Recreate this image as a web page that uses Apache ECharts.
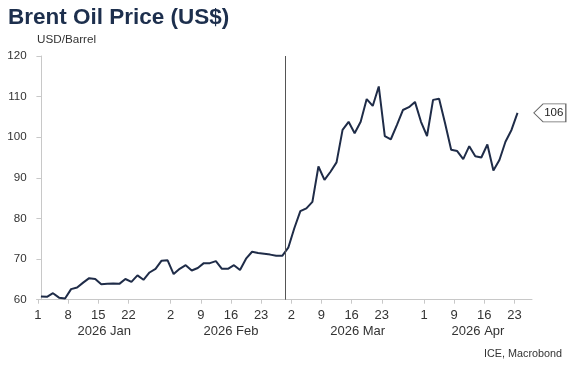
<!DOCTYPE html>
<html>
<head>
<meta charset="utf-8">
<script src="https://cdn.jsdelivr.net/npm/echarts@6/dist/echarts.min.js"></script>
<style>
html,body{margin:0;padding:0;background:#fff;}
#c{width:576px;height:367px;}
</style>
</head>
<body>
<div id="c"></div>
<script>
// Trading days (weekdays, Good Friday excluded)
const dates = [
 '2026-01-01','2026-01-02','2026-01-05','2026-01-06','2026-01-07','2026-01-08','2026-01-09',
 '2026-01-12','2026-01-13','2026-01-14','2026-01-15','2026-01-16','2026-01-19','2026-01-20',
 '2026-01-21','2026-01-22','2026-01-23','2026-01-26','2026-01-27','2026-01-28','2026-01-29','2026-01-30',
 '2026-02-02','2026-02-03','2026-02-04','2026-02-05','2026-02-06','2026-02-09','2026-02-10',
 '2026-02-11','2026-02-12','2026-02-13','2026-02-16','2026-02-17','2026-02-18','2026-02-19',
 '2026-02-20','2026-02-23','2026-02-24','2026-02-25','2026-02-26','2026-02-27',
 '2026-03-02','2026-03-03','2026-03-04','2026-03-05','2026-03-06','2026-03-09','2026-03-10',
 '2026-03-11','2026-03-12','2026-03-13','2026-03-16','2026-03-17','2026-03-18','2026-03-19',
 '2026-03-20','2026-03-23','2026-03-24','2026-03-25','2026-03-26','2026-03-27','2026-03-30','2026-03-31',
 '2026-04-01','2026-04-02','2026-04-06','2026-04-07','2026-04-08','2026-04-09','2026-04-10',
 '2026-04-13','2026-04-14','2026-04-15','2026-04-16','2026-04-17','2026-04-20','2026-04-21',
 '2026-04-22','2026-04-23'
];
const prices = [
 60.8,60.7,61.6,60.5,60.3,62.6,63.0,
 64.2,65.3,65.1,63.8,63.9,64.0,63.9,
 65.1,64.4,66.0,64.9,66.7,67.6,69.6,69.7,
 66.3,67.6,68.5,67.2,67.8,69.0,69.0,
 69.5,67.6,67.6,68.5,67.3,70.1,71.8,
 71.5,71.3,71.1,70.8,70.8,72.8,
 77.6,81.8,82.5,84.1,92.8,89.5,91.5,
 93.8,101.8,103.8,101.0,103.8,109.4,107.7,
 112.5,100.3,99.5,103.0,106.7,107.4,108.7,103.8,
 100.3,109.2,109.5,103.4,96.9,96.6,94.6,
 97.8,95.3,95.0,98.2,91.8,94.4,98.9,
 101.8,106.0
];
const tickDates = ['2026-01-01','2026-01-08','2026-01-15','2026-01-22',
 '2026-02-02','2026-02-09','2026-02-16','2026-02-23',
 '2026-03-02','2026-03-09','2026-03-16','2026-03-23',
 '2026-04-01','2026-04-09','2026-04-16','2026-04-23'];
const months = ['2026-01','2026-02','2026-03','2026-04'];
const monthLabels = ['2026 Jan','2026 Feb','2026 Mar','2026 Apr'];
const yTicks = [60,70,80,90,100,110,120];
const eventDate = '2026-02-27';
const title = 'Brent Oil Price (US$)';
const unit = 'USD/Barrel';
const source = 'ICE, Macrobond';

const X_MIN = -0.7, X_MAX = 81.4;
const tickVals = tickDates.map(d => dates.indexOf(d) - 0.5);
const monthVals = months.map((m, k) => {
  const idx = dates.map((d,i)=>d.startsWith(m)?i:-1).filter(i=>i>=0);
  const s = idx[0] - 0.5;
  const e = (k === months.length - 1) ? X_MAX : idx[idx.length-1] + 0.5;
  return (s + e) / 2;
});
const seriesData = prices.map((v,i)=>[i,v]);
const lastIdx = prices.length - 1;

const FONT = '"Liberation Sans", Arial, sans-serif';
const chart = echarts.init(document.getElementById('c'), null, {renderer:'canvas'});
chart.setOption({
  animation: false,
  backgroundColor: '#fff',
  title: [
    {text: title, left: 8, top: 6, padding:0, textStyle:{fontFamily:FONT, fontSize:22.5, fontWeight:'bold', color:'#1d2f4d'}},
    {text: unit, left: 37, top: 34, padding:0, textStyle:{fontFamily:FONT, fontSize:11.7, fontWeight:'normal', color:'#333'}},
    {text: source, right: 14, top: 349, padding:0, textStyle:{fontFamily:FONT, fontSize:10.8, fontWeight:'normal', color:'#333'}}
  ],
  grid: {left: 36.7, top: 56, width: 495.3, height: 243.7, containLabel:false},
  xAxis: [
    {
      type:'value', min:X_MIN, max:X_MAX, position:'bottom',
      splitLine:{show:false},
      axisLine:{show:true, lineStyle:{color:'#c8c8c8', width:1}},
      axisTick:{show:true, customValues: tickVals, length:4, lineStyle:{color:'#c8c8c8'}},
      axisLabel:{show:true, customValues: tickVals, margin:9, fontFamily:FONT, fontSize:13, color:'#333',
        formatter: v => String(parseInt(dates[Math.round(v+0.5)].slice(8),10))}
    },
    {
      type:'value', min:X_MIN, max:X_MAX, position:'bottom', offset:16,
      splitLine:{show:false}, axisLine:{show:false}, axisTick:{show:false},
      axisLabel:{show:true, customValues: monthVals, margin:9, fontFamily:FONT, fontSize:13, color:'#333',
        formatter: v => monthLabels[monthVals.indexOf(v)]}
    }
  ],
  yAxis: {
    type:'value', min:60, max:120, interval:10,
    splitLine:{show:false},
    axisLine:{show:true, lineStyle:{color:'#c8c8c8', width:1}},
    axisTick:{show:true, length:4.5, lineStyle:{color:'#c8c8c8'}},
    axisLabel:{margin:10, fontFamily:FONT, fontSize:11.6, color:'#333',
      formatter: v => yTicks.includes(v) ? String(v) : ''}
  },
  series: [{
    type:'line', data: seriesData, xAxisIndex:0, symbol:'none',
    lineStyle:{color:'#1f2c48', width:2}, itemStyle:{color:'#1f2c48'},
    markLine:{
      silent:true, symbol:['none','none'], label:{show:false},
      lineStyle:{color:'#555', width:1, type:'solid'},
      data:[{xAxis: dates.indexOf(eventDate) - 0.5}]
    },
    markPoint:{
      silent:true,
      data:[{coord: seriesData[lastIdx], value: prices[lastIdx]}],
      symbol:'path://M0,9 L9.3,0 L32,0 L32,18 L9.3,18 Z',
      symbolSize:[32,18], symbolKeepAspect:false, symbolOffset:[32.3,0],
      itemStyle:{color:'#fff', borderColor:'#666', borderWidth:1},
      label:{show:true, position:'inside', offset:[4,0], fontFamily:FONT, fontSize:11.5, color:'#222',
        formatter: p => String(Math.round(p.value))}
    }
  }]
});
</script>
</body>
</html>
